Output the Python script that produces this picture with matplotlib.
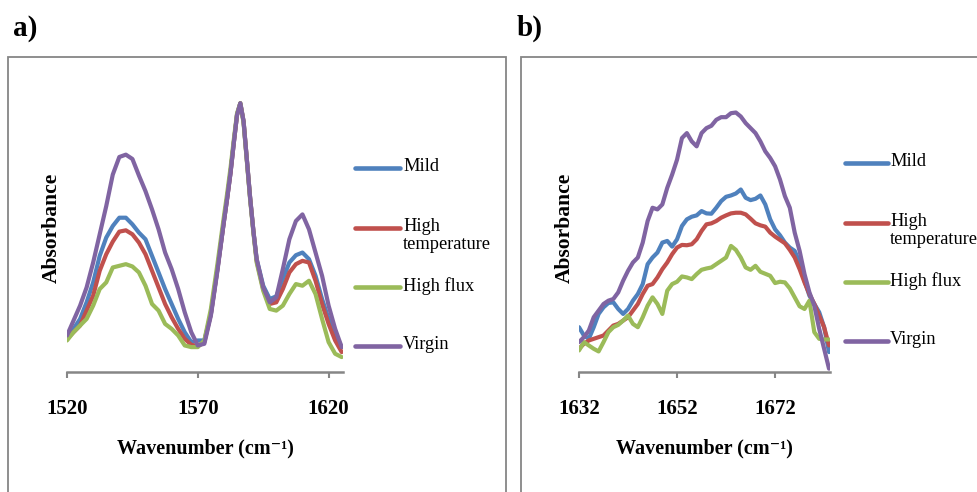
import numpy as np
import matplotlib
matplotlib.use("Agg")
import matplotlib.pyplot as plt
from matplotlib.lines import Line2D
from matplotlib.patches import Rectangle

plt.rcParams['font.family'] = ['Liberation Serif', 'DejaVu Serif']

# ---- data -------------------------------------------------------------
series_names = ['Mild', 'High\ntemperature', 'High flux', 'Virgin']
series_colors = ['#4F81BD', '#C0504D', '#9BBB59', '#8064A2']

# a) 1520-1625 cm-1, every 2.5 cm-1 with a finer step over the 1586 band
wn_a = np.r_[np.arange(1520, 1578, 2.5), np.arange(1580, 1592, 1.25),
             np.arange(1592.5, 1625.1, 2.5)]
mild_a = [0.100, 0.130, 0.160, 0.210, 0.270, 0.350, 0.405, 0.440, 0.465, 0.465,
          0.445, 0.420, 0.400, 0.350, 0.300, 0.250, 0.205, 0.160, 0.120, 0.090,
          0.095, 0.095, 0.175, 0.310,
          0.455, 0.525, 0.600, 0.690, 0.775, 0.810, 0.755, 0.640, 0.525, 0.425,
          0.340, 0.260, 0.220, 0.228, 0.280, 0.330, 0.352, 0.360, 0.340, 0.290,
          0.220, 0.160, 0.110, 0.075]
hightemp_a = [0.100, 0.120, 0.140, 0.185, 0.230, 0.305, 0.355, 0.393, 0.423, 0.427,
              0.415, 0.390, 0.355, 0.305, 0.255, 0.205, 0.165, 0.130, 0.100, 0.082,
              0.078, 0.090, 0.175, 0.310,
              0.455, 0.525, 0.600, 0.690, 0.775, 0.810, 0.755, 0.640, 0.525, 0.425,
              0.335, 0.250, 0.205, 0.210, 0.250, 0.300, 0.325, 0.335, 0.330, 0.275,
              0.205, 0.145, 0.095, 0.060]
highflux_a = [0.095, 0.120, 0.140, 0.160, 0.200, 0.250, 0.270, 0.315, 0.320, 0.325,
              0.318, 0.300, 0.260, 0.205, 0.185, 0.145, 0.130, 0.110, 0.080, 0.075,
              0.075, 0.095, 0.190, 0.325,
              0.470, 0.540, 0.615, 0.700, 0.780, 0.810, 0.750, 0.635, 0.520, 0.420,
              0.330, 0.245, 0.190, 0.185, 0.200, 0.235, 0.265, 0.260, 0.275, 0.235,
              0.160, 0.090, 0.055, 0.045]
virgin_a = [0.110, 0.155, 0.200, 0.255, 0.330, 0.415, 0.500, 0.595, 0.648, 0.655,
            0.642, 0.592, 0.545, 0.490, 0.430, 0.360, 0.310, 0.250, 0.180, 0.120,
            0.080, 0.085, 0.170, 0.305,
            0.455, 0.525, 0.600, 0.690, 0.775, 0.810, 0.755, 0.640, 0.525, 0.425,
            0.340, 0.255, 0.210, 0.225, 0.310, 0.400, 0.455, 0.475, 0.430, 0.360,
            0.290, 0.200, 0.130, 0.075]

# b) 1632-1683 cm-1, every 1 cm-1
wn_b = np.arange(1632, 1684, 1)
mild_b = [0.135, 0.110, 0.100, 0.135, 0.175, 0.195, 0.208, 0.210, 0.190, 0.175,
          0.190, 0.215, 0.235, 0.265, 0.325, 0.345, 0.360, 0.390, 0.395, 0.378,
          0.400, 0.440, 0.460, 0.468, 0.472, 0.485, 0.478, 0.477, 0.495, 0.515,
          0.528, 0.532, 0.538, 0.550, 0.525, 0.518, 0.522, 0.532, 0.505, 0.460,
          0.430, 0.412, 0.390, 0.375, 0.365, 0.330, 0.275, 0.230, 0.205, 0.180,
          0.135, 0.060]
hightemp_b = [0.070, 0.085, 0.095, 0.100, 0.105, 0.110, 0.125, 0.140, 0.145, 0.155,
              0.165, 0.185, 0.205, 0.235, 0.260, 0.265, 0.285, 0.310, 0.330, 0.355,
              0.375, 0.383, 0.382, 0.385, 0.400, 0.425, 0.445, 0.448, 0.455, 0.465,
              0.472, 0.478, 0.480, 0.480, 0.475, 0.462, 0.448, 0.442, 0.438, 0.420,
              0.408, 0.398, 0.388, 0.368, 0.345, 0.310, 0.270, 0.235, 0.205, 0.170,
              0.135, 0.080]
highflux_b = [0.065, 0.090, 0.080, 0.070, 0.062, 0.090, 0.120, 0.135, 0.142, 0.155,
              0.170, 0.145, 0.135, 0.165, 0.200, 0.225, 0.205, 0.175, 0.245, 0.265,
              0.272, 0.288, 0.285, 0.280, 0.295, 0.308, 0.312, 0.315, 0.325, 0.335,
              0.345, 0.380, 0.368, 0.345, 0.315, 0.308, 0.320, 0.302, 0.296, 0.290,
              0.268, 0.272, 0.270, 0.252, 0.225, 0.198, 0.190, 0.215, 0.120, 0.100,
              0.098, 0.098]
virgin_b = [0.090, 0.105, 0.125, 0.165, 0.185, 0.205, 0.215, 0.220, 0.240, 0.275,
            0.305, 0.330, 0.345, 0.390, 0.455, 0.495, 0.490, 0.505, 0.555, 0.595,
            0.640, 0.705, 0.720, 0.695, 0.680, 0.720, 0.735, 0.742, 0.760, 0.768,
            0.768, 0.780, 0.782, 0.770, 0.750, 0.735, 0.720, 0.695, 0.665, 0.645,
            0.620, 0.580, 0.530, 0.495, 0.420, 0.365, 0.295, 0.240, 0.200, 0.130,
            0.070, 0.010]

ticks_a = [1520, 1570, 1620]
ticks_b = [1632, 1652, 1672]

# ---- figure -----------------------------------------------------------
W, H = 977, 492
fig = plt.figure(figsize=(W / 100, H / 100), dpi=100)
frame_col = '#868686'


def px_box(left, top, right, bottom):
    return [left / W, 1 - bottom / H, (right - left) / W, (bottom - top) / H]


def fx(x):
    return x / W


def fy(y):
    return 1 - y / H


# panel frames
for (l, r) in [(8, 506), (521, 990)]:
    fig.add_artist(Rectangle((fx(l), fy(500)), fx(r - l), (500 - 57) / H,
                             transform=fig.transFigure, fill=False,
                             edgecolor=frame_col, linewidth=1.3, clip_on=False))

panels = [
    dict(box=(67, 80, 343, 372), wn=wn_a, xlim=(1520, 1625.5), ticks=ticks_a,
         ys=[mild_a, hightemp_a, highflux_a, virgin_a], tag='a)', tag_x=13,
         ylab_x=52, leg=(355, 400, 403), leg_y=[168, 228, 287, 346]),
    dict(box=(579, 80, 830, 372), wn=wn_b, xlim=(1632, 1683.2), ticks=ticks_b,
         ys=[mild_b, hightemp_b, highflux_b, virgin_b], tag='b)', tag_x=517,
         ylab_x=565, leg=(845, 888, 890), leg_y=[163, 223, 282, 341]),
]

for p in panels:
    ax = fig.add_axes(px_box(*p['box']))
    for y, c in zip(p['ys'], series_colors):
        ax.plot(p['wn'], y, color=c, linewidth=3.0, solid_capstyle='round',
                solid_joinstyle='round')
    ax.set_xlim(*p['xlim'])
    ax.set_ylim(0, 0.88)
    for s in ['top', 'right', 'left']:
        ax.spines[s].set_visible(False)
    ax.spines['bottom'].set_color(frame_col)
    ax.spines['bottom'].set_linewidth(1.8)
    ax.set_yticks([])
    ax.set_xticks(p['ticks'])
    ax.set_xticklabels([str(t) for t in p['ticks']], fontsize=15,
                       fontweight='bold')
    ax.tick_params(axis='x', direction='out', length=4.5, width=1.5,
                   color=frame_col, pad=15)
    ax.patch.set_alpha(0)

    l, t, r, b = p['box']
    cx = (l + r) / 2
    fig.text(fx(cx), fy(448), 'Wavenumber (cm\u207b\u00b9)', fontsize=14.5,
             fontweight='bold', ha='center', va='center')
    fig.text(fx(p['ylab_x']), fy(228), 'Absorbance', fontsize=15.5,
             fontweight='bold', rotation=90, ha='center', va='center')
    fig.text(fx(p['tag_x']), fy(28), p['tag'], fontsize=21,
             fontweight='bold', ha='left', va='center')

    # legend
    x0, x1, xt = p['leg']
    for name, c, ly in zip(series_names, series_colors, p['leg_y']):
        fig.add_artist(Line2D([fx(x0), fx(x1)], [fy(ly), fy(ly)],
                              transform=fig.transFigure, color=c,
                              linewidth=3.3, solid_capstyle='round'))
        fig.text(fx(xt), fy(ly - 10), name, fontsize=13.2, ha='left', va='top',
                 linespacing=1.05)

fig.savefig('out.png', dpi=100)
